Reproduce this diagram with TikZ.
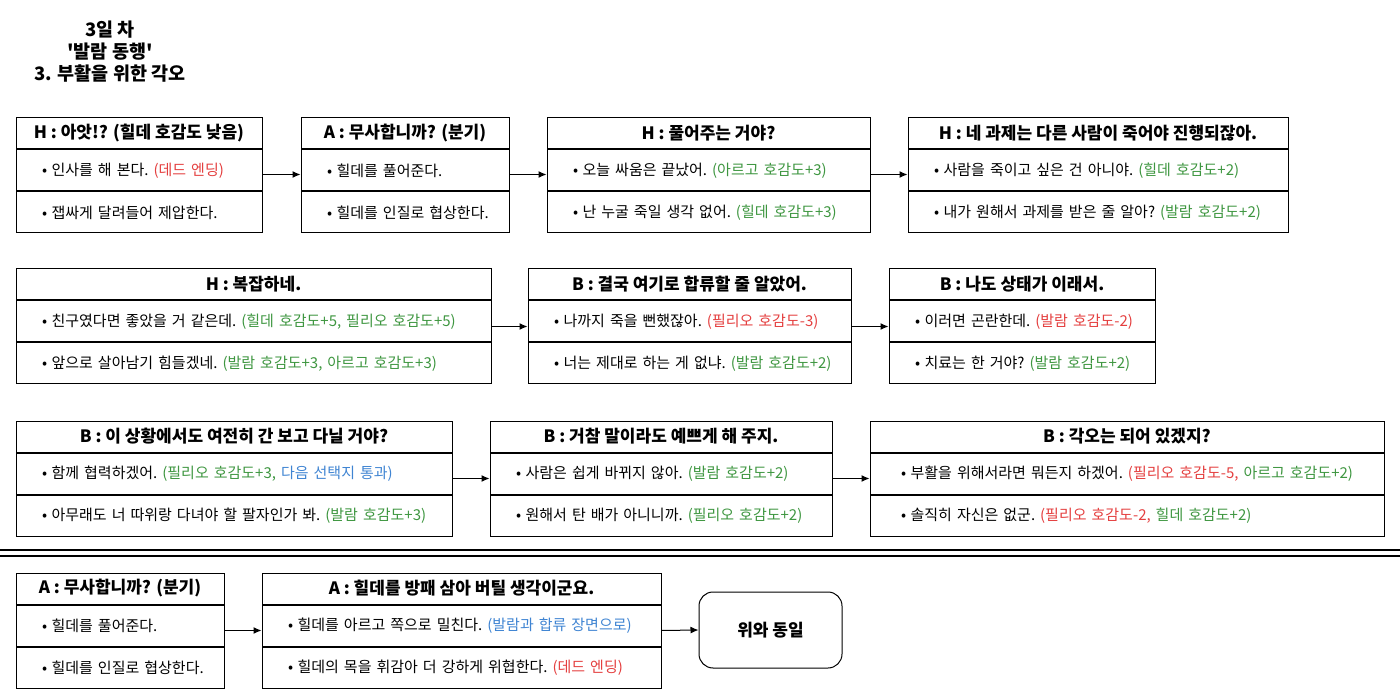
\documentclass[tikz,border=0pt]{standalone}
\usepackage{fontspec}
\setmainfont{Noto Sans CJK KR}[Ligatures=TeXOff]
\usetikzlibrary{positioning, arrows.meta}

\definecolor{deadred}{HTML}{E43F3F}
\definecolor{upgreen}{HTML}{3E9640}
\definecolor{skipblue}{HTML}{3F84D2}

\newcommand{\rtxt}[1]{\textcolor{deadred}{#1}}
\newcommand{\gtxt}[1]{\textcolor{upgreen}{#1}}
\newcommand{\btxt}[1]{\textcolor{skipblue}{#1}}
\newcommand{\itemtext}[2][0pt]{\mbox{\hspace{\dimexpr 22pt+#1\relax}•\hspace{4.5pt}#2}}

\tikzset{
    hdr/.style={draw, line width=1pt, minimum height=31pt, inner sep=0pt,
        font=\bfseries\fontsize{17}{20}\selectfont},
    itm/.style={draw, line width=1pt, minimum height=41pt, inner xsep=4pt, inner ysep=0pt,
        align=left, font=\frenchspacing\fontsize{15}{18}\selectfont},
    lnk/.style={->, >={Latex[length=8pt, width=7pt]}, line width=1pt},
}

\begin{document}
\begin{tikzpicture}[x=1pt, y=-1pt]
    \useasboundingbox (0,0) rectangle (1400,700);

    \node[font=\bfseries\fontsize{18.5}{22}\selectfont, align=center] (title) at (110,52)
        {3일 차\\'발람 동행'\\3. 부활을 위한 각오};

    % row 1
    \node[hdr, minimum width=246pt] (h1) at (139,133.5) {H : 아앗!? (힐데 호감도 낮음)};
    \node[itm, text width=238pt, below=0pt of h1] (h1a) {\itemtext{인사를 해 본다. \rtxt{(데드 엔딩)}}};
    \node[itm, text width=238pt, below=0pt of h1a] (h1b) {\itemtext{잽싸게 달려들어 제압한다.}};

    \node[hdr, minimum width=208pt] (a1) at (405,133.5) {A : 무사합니까? (분기)};
    \node[itm, text width=200pt, below=0pt of a1] (a1a) {\itemtext{힐데를 풀어준다.}};
    \node[itm, text width=200pt, below=0pt of a1a] (a1b) {\itemtext{힐데를 인질로 협상한다.}};

    \node[hdr, minimum width=323pt] (h2) at (708.5,133.5) {H : 풀어주는 거야?};
    \node[itm, text width=315pt, below=0pt of h2] (h2a) {\itemtext{오늘 싸움은 끝났어. \gtxt{(아르고 호감도+3)}}};
    \node[itm, text width=315pt, below=0pt of h2a] (h2b) {\itemtext{난 누굴 죽일 생각 없어. \gtxt{(힐데 호감도+3)}}};

    \node[hdr, minimum width=380pt] (h3) at (1098,133.5) {H : 네 과제는 다른 사람이 죽어야 진행되잖아.};
    \node[itm, text width=372pt, below=0pt of h3] (h3a) {\itemtext{사람을 죽이고 싶은 건 아니야. \gtxt{(힐데 호감도+2)}}};
    \node[itm, text width=372pt, below=0pt of h3a] (h3b) {\itemtext{내가 원해서 과제를 받은 줄 알아? \gtxt{(발람 호감도+2)}}};

    % row 2
    \node[hdr, minimum width=475pt] (h4) at (253.5,284.5) {H : 복잡하네.};
    \node[itm, text width=467pt, below=0pt of h4] (h4a) {\itemtext{친구였다면 좋았을 거 같은데. \gtxt{(힐데 호감도+5, 필리오 호감도+5)}}};
    \node[itm, text width=467pt, below=0pt of h4a] (h4b) {\itemtext{앞으로 살아남기 힘들겠네. \gtxt{(발람 호감도+3, 아르고 호감도+3)}}};

    \node[hdr, minimum width=323pt] (b1) at (689.5,284.5) {B : 결국 여기로 합류할 줄 알았어.};
    \node[itm, text width=315pt, below=0pt of b1] (b1a) {\itemtext{나까지 죽을 뻔했잖아. \rtxt{(필리오 호감도-3)}}};
    \node[itm, text width=315pt, below=0pt of b1a] (b1b) {\itemtext{너는 제대로 하는 게 없냐. \gtxt{(발람 호감도+2)}}};

    \node[hdr, minimum width=266pt] (b2) at (1022,284.5) {B : 나도 상태가 이래서.};
    \node[itm, text width=258pt, below=0pt of b2] (b2a) {\itemtext{이러면 곤란한데. \rtxt{(발람 호감도-2)}}};
    \node[itm, text width=258pt, below=0pt of b2a] (b2b) {\itemtext{치료는 한 거야? \gtxt{(발람 호감도+2)}}};

    % row 3
    \node[hdr, minimum width=436pt] (b3) at (234,436.5) {B : 이 상황에서도 여전히 간 보고 다닐 거야?};
    \node[itm, text width=428pt, below=0pt of b3] (b3a) {\itemtext{함께 협력하겠어. \gtxt{(필리오 호감도+3,} \btxt{다음 선택지 통과)}}};
    \node[itm, text width=428pt, below=0pt of b3a] (b3b) {\itemtext{아무래도 너 따위랑 다녀야 할 팔자인가 봐. \gtxt{(발람 호감도+3)}}};

    \node[hdr, minimum width=342pt] (b4) at (661,436.5) {B : 거참 말이라도 예쁘게 해 주지.};
    \node[itm, text width=334pt, below=0pt of b4] (b4a) {\itemtext{사람은 쉽게 바뀌지 않아. \gtxt{(발람 호감도+2)}}};
    \node[itm, text width=334pt, below=0pt of b4a] (b4b) {\itemtext{원해서 탄 배가 아니니까. \gtxt{(필리오 호감도+2)}}};

    \node[hdr, minimum width=514pt] (b5) at (1127,436.5) {B : 각오는 되어 있겠지?};
    \node[itm, text width=506pt, below=0pt of b5] (b5a) {\itemtext[5pt]{부활을 위해서라면 뭐든지 하겠어. \rtxt{(필리오 호감도-5,} \gtxt{아르고 호감도+2)}}};
    \node[itm, text width=506pt, below=0pt of b5a] (b5b) {\itemtext[5pt]{솔직히 자신은 없군. \rtxt{(필리오 호감도-2,} \gtxt{힐데 호감도+2)}}};

    % separator
    \draw[line width=1.3pt] (0,550) -- (1400,550);
    \draw[line width=1.3pt] (0,556) -- (1400,556);

    % row 4
    \node[hdr, minimum width=208pt] (a2) at (120,588.5) {A : 무사합니까? (분기)};
    \node[itm, text width=200pt, below=0pt of a2] (a2a) {\itemtext{힐데를 풀어준다.}};
    \node[itm, text width=200pt, below=0pt of a2a] (a2b) {\itemtext{힐데를 인질로 협상한다.}};

    \node[hdr, minimum width=399pt] (a3) at (461.5,588.5) {A : 힐데를 방패 삼아 버틸 생각이군요.};
    \node[itm, text width=391pt, below=0pt of a3] (a3a) {\itemtext{힐데를 아르고 쪽으로 밀친다. \btxt{(발람과 합류 장면으로)}}};
    \node[itm, text width=391pt, below=0pt of a3a] (a3b) {\itemtext{힐데의 목을 휘감아 더 강하게 위협한다. \rtxt{(데드 엔딩)}}};

    \node[draw, line width=1pt, rounded corners=14pt, minimum width=143pt, minimum height=76pt,
        font=\bfseries\fontsize{17}{20}\selectfont] (same) at (770.5,630) {위와 동일};

    % links
    \draw[lnk] ([yshift=-4pt]h1a.east) -- ([yshift=-4pt]a1a.west);
    \draw[lnk] ([yshift=-4pt]a1a.east) -- ([yshift=-4pt]h2a.west);
    \draw[lnk] ([yshift=-4pt]h2a.east) -- ([yshift=-4pt]h3a.west);
    \draw[lnk] ([yshift=-5pt]h4a.east) -- ([yshift=-5pt]b1a.west);
    \draw[lnk] ([yshift=-5pt]b1a.east) -- ([yshift=-5pt]b2a.west);
    \draw[lnk] ([yshift=-5pt]b3a.east) -- ([yshift=-5pt]b4a.west);
    \draw[lnk] ([yshift=-5pt]b4a.east) -- ([yshift=-5pt]b5a.west);
    \draw[lnk] ([yshift=-5pt]a2a.east) -- ([yshift=-5pt]a3a.west);
    \draw[lnk] ([yshift=-5pt]a3a.east) -- (same.west);
\end{tikzpicture}
\end{document}
